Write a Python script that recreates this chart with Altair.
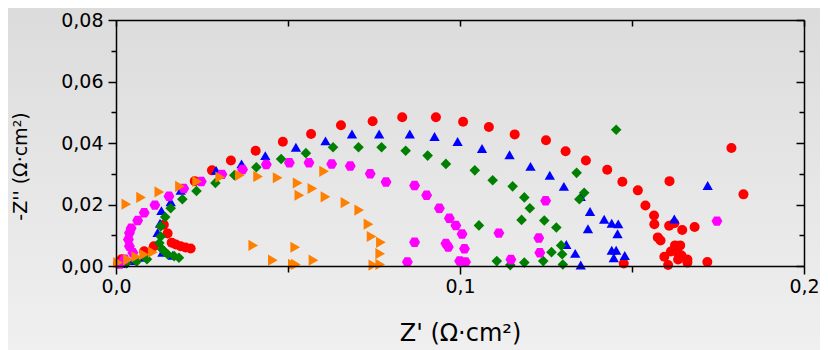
import altair as alt
import pandas as pd

# ---------------- data ----------------
red_x = [0.0006, 0.0016, 0.0082, 0.0110, 0.0139, 0.0150, 0.0162, 0.0174, 0.0188, 0.0202, 0.0217,
         0.0229, 0.0279, 0.0334, 0.0406, 0.0485, 0.0567, 0.0654, 0.0746, 0.0832, 0.0930, 0.1009,
         0.1084, 0.1159, 0.1250, 0.1307, 0.1366, 0.1428, 0.1472, 0.1517, 0.1539, 0.1564, 0.1565,
         0.1575, 0.1583, 0.1594, 0.1605, 0.1476, 0.1609, 0.1608, 0.1623, 0.1646, 0.1682, 0.1625,
         0.1640, 0.1613, 0.1634, 0.1644, 0.1634, 0.1661, 0.1661, 0.1719, 0.1789, 0.1824]
red_y = [0.0008, 0.0022, 0.0048, 0.0064, 0.0134, 0.0106, 0.0076, 0.0070, 0.0064, 0.0060, 0.0057,
         0.0276, 0.0311, 0.0343, 0.0375, 0.0404, 0.0429, 0.0458, 0.0471, 0.0484, 0.0484, 0.0469,
         0.0452, 0.0428, 0.0409, 0.0373, 0.0343, 0.0313, 0.0274, 0.0246, 0.0197, 0.0164, 0.0136,
         0.0093, 0.0083, 0.0030, 0.0003, 0.0008, 0.0276, 0.0131, 0.0139, 0.0117, 0.0127, 0.0067,
         0.0067, 0.0047, 0.0041, 0.0034, 0.0021, 0.0021, 0.0011, 0.0013, 0.0384, 0.0233]

blue_x = [0.0020, 0.0050, 0.0080, 0.0135, 0.0165, 0.0121, 0.0128, 0.0132, 0.0159, 0.0188,
          0.0291, 0.0365, 0.0434, 0.0523, 0.0609, 0.0686, 0.0765, 0.0854, 0.0926, 0.0993,
          0.1064, 0.1144, 0.1205, 0.1261, 0.1302, 0.1351, 0.1378, 0.1419, 0.1441, 0.1460,
          0.1372, 0.1458, 0.1441, 0.1454, 0.1479, 0.1447, 0.1309, 0.1335, 0.1351, 0.1720, 0.1623]
blue_y = [0.0008, 0.0018, 0.0028, 0.0045, 0.0035, 0.0109, 0.0139, 0.0180, 0.0209, 0.0246,
          0.0311, 0.0332, 0.0359, 0.0386, 0.0407, 0.0429, 0.0429, 0.0429, 0.0421, 0.0405,
          0.0382, 0.0362, 0.0324, 0.0295, 0.0259, 0.0226, 0.0177, 0.0152, 0.0139, 0.0137,
          0.0121, 0.0105, 0.0051, 0.0051, 0.0034, 0.0027, 0.0070, 0.0041, 0.0003, 0.0262, 0.0153]

green_x = [0.0030, 0.0060, 0.0090, 0.0183, 0.0169, 0.0150, 0.0140, 0.0135, 0.0126, 0.0130, 0.0130,
           0.0143, 0.0159, 0.0193, 0.0234, 0.0289, 0.0344, 0.0408, 0.0480, 0.0552, 0.0631, 0.0705,
           0.0772, 0.0842, 0.0906, 0.0959, 0.1043, 0.1095, 0.1153, 0.1187, 0.1203, 0.1179, 0.1245,
           0.1280, 0.1055, 0.1339, 0.1361, 0.1347, 0.1294, 0.1266, 0.1297, 0.1242, 0.1299, 0.1107,
           0.1146, 0.1187, 0.1454]
green_y = [0.0008, 0.0015, 0.0022, 0.0027, 0.0032, 0.0038, 0.0048, 0.0054, 0.0075, 0.0096, 0.0129,
           0.0159, 0.0188, 0.0217, 0.0244, 0.0270, 0.0295, 0.0321, 0.0348, 0.0367, 0.0386, 0.0386,
           0.0386, 0.0375, 0.0359, 0.0332, 0.0311, 0.0279, 0.0259, 0.0223, 0.0188, 0.0150, 0.0148,
           0.0125, 0.0132, 0.0303, 0.0238, 0.0217, 0.0067, 0.0045, 0.0038, 0.0016, 0.0005, 0.0016,
           0.0003, 0.0011, 0.0443]

magenta_x = [0.0012, 0.0025, 0.0049, 0.0039, 0.0036, 0.0039, 0.0044, 0.0063, 0.0082, 0.0113,
             0.0154, 0.0197, 0.0248, 0.0308, 0.0368, 0.0437, 0.0504, 0.0561, 0.0627, 0.0681,
             0.0739, 0.0785, 0.0868, 0.0903, 0.0940, 0.0969, 0.0988, 0.1006, 0.1013, 0.0959,
             0.0966, 0.0868, 0.0847, 0.0999, 0.1016, 0.1113, 0.1249, 0.1229, 0.1232, 0.1148, 0.1747]
magenta_y = [0.0006, 0.0022, 0.0043, 0.0064, 0.0086, 0.0107, 0.0123, 0.0148, 0.0173, 0.0198,
             0.0227, 0.0252, 0.0275, 0.0298, 0.0314, 0.0330, 0.0336, 0.0336, 0.0332, 0.0325,
             0.0300, 0.0273, 0.0262, 0.0230, 0.0188, 0.0155, 0.0132, 0.0104, 0.0056, 0.0073,
             0.0062, 0.0077, 0.0013, 0.0016, 0.0013, 0.0107, 0.0212, 0.0091, 0.0043, 0.0021, 0.0146]

orange_x = [0.0006, 0.0035, 0.0059, 0.0082, 0.0107, 0.0030, 0.0073, 0.0126, 0.0186, 0.0236,
            0.0303, 0.0360, 0.0413, 0.0470, 0.0528, 0.0533, 0.0571, 0.0609, 0.0667, 0.0605,
            0.0707, 0.0734, 0.0743, 0.0770, 0.0768, 0.0768, 0.0748, 0.0399, 0.0456, 0.0521,
            0.0574, 0.0514, 0.0523]
orange_y = [0.0011, 0.0021, 0.0030, 0.0037, 0.0045, 0.0201, 0.0223, 0.0241, 0.0259, 0.0275,
            0.0289, 0.0295, 0.0291, 0.0287, 0.0270, 0.0230, 0.0252, 0.0225, 0.0206, 0.0308,
            0.0182, 0.0136, 0.0096, 0.0077, 0.0040, 0.0005, 0.0003, 0.0067, 0.0019, 0.0061,
            0.0019, 0.0005, 0.0005]

series_names = ["red", "blue", "green", "magenta", "orange"]
series_colors = ["#ff0000", "#0000ff", "#008000", "#ff00ff", "#ff8000"]
hexagon = "M -1 0 L -0.5 -0.866 L 0.5 -0.866 L 1 0 L 0.5 0.866 L -0.5 0.866 Z"
series_shapes = ["circle", "triangle-up", "diamond", hexagon, "triangle-right"]
series_sizes = [100, 125, 115, 110, 115]

x_major = [0.0, 0.1, 0.2]
x_minor = [0.05, 0.15]
x_all = [0.0, 0.05, 0.1, 0.15, 0.2]
y_major = [0.0, 0.02, 0.04, 0.06, 0.08]
y_minor = [0.01, 0.03, 0.05, 0.07]

rows = []
for name, xs_, ys_ in zip(series_names,
                          [red_x, blue_x, green_x, magenta_x, orange_x],
                          [red_y, blue_y, green_y, magenta_y, orange_y]):
    for a, b in zip(xs_, ys_):
        rows.append({"series": name, "x": a, "y": b})
df = pd.DataFrame(rows)

W, H = 688, 246
PAD = {"left": 108, "top": 12, "right": 16, "bottom": 84}
FONT = "DejaVu Sans"
AX = dict(zindex=1, grid=False, domainColor="black", domainWidth=1.5,
          tickColor="black", tickWidth=1.5)

xscale = alt.Scale(domain=[0, 0.2], nice=False, zero=False)
yscale = alt.Scale(domain=[0, 0.08], nice=False, zero=False)

# soft grey backdrop shading (darker at top, lighter at bottom)
backdrop = alt.Chart(pd.DataFrame({"k": [0]})).mark_rect(
    clip=False,
    color=alt.LinearGradient(
        gradient="linear", x1=0, x2=0, y1=0, y2=1,
        stops=[alt.GradientStop(color="#dbdbdb", offset=0),
               alt.GradientStop(color="#e6e6e6", offset=0.5),
               alt.GradientStop(color="#f0f0f0", offset=1)],
    ),
).encode(
    x=alt.value(-PAD["left"] - 10), x2=alt.value(W + PAD["right"] + 10),
    y=alt.value(-PAD["top"] - 10), y2=alt.value(H + PAD["bottom"] + 10),
)

base = alt.Chart(df)

points = base.mark_point(filled=True, opacity=1, strokeWidth=0).encode(
    x=alt.X("x:Q", scale=xscale,
            axis=alt.Axis(orient="bottom", values=x_major, tickSize=8, labelPadding=3,
                          labelFlush=False, labelOverlap=False,
                          labelExpr="replace(format(datum.value, '.1f'), '.', ',')",
                          title="Z' (Ω·cm²)", titleFontSize=24, titleX=W / 2, titleY=74,
                          titleBaseline="alphabetic", titleAlign="center", **AX)),
    y=alt.Y("y:Q", scale=yscale,
            axis=alt.Axis(orient="left", values=y_major, tickSize=8, labelPadding=5,
                          labelFlush=False, labelOverlap=False,
                          labelExpr="replace(format(datum.value, '.2f'), '.', ',')",
                          title="-Z''  (Ω·cm²)", titleFontSize=19, titleAngle=-90,
                          titleX=-90, titleY=146, titleAlign="center",
                          titleBaseline="alphabetic", **AX)),
    color=alt.Color("series:N", scale=alt.Scale(domain=series_names, range=series_colors), legend=None),
    shape=alt.Shape("series:N", scale=alt.Scale(domain=series_names, range=series_shapes), legend=None),
    size=alt.Size("series:N", scale=alt.Scale(domain=series_names, range=series_sizes), legend=None),
)

minor = base.mark_point(opacity=0).encode(
    x=alt.X("x:Q", scale=xscale,
            axis=alt.Axis(orient="bottom", values=x_minor, tickSize=6, labels=False,
                          domain=False, title=None, **AX)),
    y=alt.Y("y:Q", scale=yscale,
            axis=alt.Axis(orient="left", values=y_minor, tickSize=5, labels=False,
                          domain=False, title=None, **AX)),
)

mirror_major = base.mark_point(opacity=0).encode(
    x=alt.X("x:Q", scale=xscale,
            axis=alt.Axis(orient="bottom", offset=-H, values=x_all, tickSize=6, labels=False,
                          title=None, **AX)),
    y=alt.Y("y:Q", scale=yscale,
            axis=alt.Axis(orient="left", offset=-W, values=y_major, tickSize=8, labels=False,
                          title=None, **AX)),
)

mirror_minor = base.mark_point(opacity=0).encode(
    x=alt.X("x:Q", scale=xscale, axis=None),
    y=alt.Y("y:Q", scale=yscale,
            axis=alt.Axis(orient="left", offset=-W, values=y_minor, tickSize=5, labels=False,
                          domain=False, title=None, **AX)),
)

chart = alt.layer(backdrop, points, minor, mirror_major, mirror_minor).resolve_axis(
    x="independent", y="independent"
).properties(
    width=W, height=H,
    padding=PAD,
    autosize=alt.AutoSizeParams(type="none"),
    background="#e6e6e6",
).configure_view(
    stroke=None
).configure_axis(
    labelFont=FONT, labelFontSize=19, labelColor="black",
    titleFont=FONT, titleColor="black", titleFontWeight="normal",
)

chart.save("out.html", embed_options={"renderer": "svg", "actions": False})
